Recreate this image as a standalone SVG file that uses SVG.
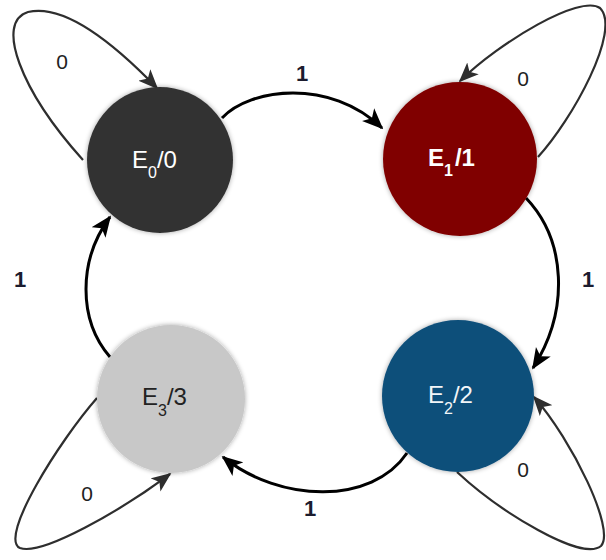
<svg xmlns="http://www.w3.org/2000/svg" width="606" height="560" viewBox="0 0 606 560">
  <style>
    .state-label { font-family: "Liberation Sans", Arial, sans-serif; font-size: 24px; }
    .sub { font-size: 16px; }
    .edge-label { font-family: "Liberation Sans", Arial, sans-serif; font-size: 22px; font-weight: bold; fill: #1c1c2e; text-anchor: middle; }
    .loop-label { font-family: "Liberation Sans", Arial, sans-serif; font-size: 21px; fill: #222; text-anchor: middle; }
    .edge { fill: none; stroke: #000; stroke-width: 3; }
    .loop { fill: none; stroke: #2e2e2e; stroke-width: 2.2; }
  </style>
  <defs>
    <marker id="arrow" viewBox="0 0 12 10" refX="11" refY="5" markerWidth="7" markerHeight="6" markerUnits="strokeWidth" orient="auto">
      <path d="M0,0 L12,5 L0,10 L3,5 z" fill="#000"/>
    </marker>
    <marker id="arrow-loop" viewBox="0 0 12 10" refX="11" refY="5" markerWidth="9" markerHeight="8" markerUnits="strokeWidth" orient="auto">
      <path d="M0,0 L12,5 L0,10 L3,5 z" fill="#2e2e2e"/>
    </marker>
    <filter id="soft" x="-20%" y="-20%" width="140%" height="140%">
      <feGaussianBlur in="SourceAlpha" stdDeviation="2.5"/>
      <feComponentTransfer><feFuncA type="linear" slope="0.35"/></feComponentTransfer>
      <feMerge><feMergeNode/><feMergeNode in="SourceGraphic"/></feMerge>
    </filter>
  </defs>

  <!-- transitions -->
  <g id="connectors">
    <path class="edge" d="M222,118 C250,88 330,78 382,128" marker-end="url(#arrow)"/>
    <path class="edge" d="M526,198 C566,240 570,310 533,368" marker-end="url(#arrow)"/>
    <path class="edge" d="M407,453 C372,505 280,503 223,457" marker-end="url(#arrow)"/>
    <path class="edge" d="M110,357 C78,320 78,260 110,217" marker-end="url(#arrow)"/>

    <path class="loop" d="M83,160 C20,90 -5,22 28,12 C70,2 130,60 157,88" marker-end="url(#arrow-loop)"/>
    <path class="loop" d="M538,157 C572,120 622,30 600,8 C580,-6 500,42 460,81" marker-end="url(#arrow-loop)"/>
    <path class="loop" d="M457,472 C500,512 582,562 601,546 C616,530 572,440 534,397" marker-end="url(#arrow-loop)"/>
    <path class="loop" d="M97,398 C60,440 -2,538 20,548 C42,556 122,510 170,474" marker-end="url(#arrow-loop)"/>

    <text class="edge-label" x="302" y="81">1</text>
    <text class="edge-label" x="588" y="287">1</text>
    <text class="edge-label" x="310" y="516">1</text>
    <text class="edge-label" x="20" y="287">1</text>

    <text class="loop-label" x="62" y="69">0</text>
    <text class="loop-label" x="523" y="86">0</text>
    <text class="loop-label" x="523" y="477">0</text>
    <text class="loop-label" x="87" y="501">0</text>
  </g>

  <g id="E0">
    <circle cx="160" cy="160" r="73" fill="#333333" filter="url(#soft)"/>
    <text class="state-label" x="132" y="168" fill="#fff">E<tspan class="sub" dy="10">0</tspan><tspan dy="-10">/0</tspan></text>
  </g>
  <g id="E1">
    <circle cx="460" cy="159" r="77" fill="#800000" filter="url(#soft)"/>
    <text class="state-label" x="428" y="166" fill="#fff" font-weight="bold">E<tspan class="sub" dy="10">1</tspan><tspan dx="2" dy="-10">/1</tspan></text>
  </g>
  <g id="E2">
    <circle cx="458" cy="396" r="76" fill="#0f4f7a" filter="url(#soft)"/>
    <text class="state-label" x="428" y="403" fill="#f2f6f8">E<tspan class="sub" dy="11">2</tspan><tspan dy="-11">/2</tspan></text>
  </g>
  <g id="E3">
    <circle cx="171" cy="399" r="74" fill="#c8c8c8" filter="url(#soft)"/>
    <text class="state-label" x="142" y="405" fill="#222">E<tspan class="sub" dy="11">3</tspan><tspan dy="-11">/3</tspan></text>
  </g>
</svg>
